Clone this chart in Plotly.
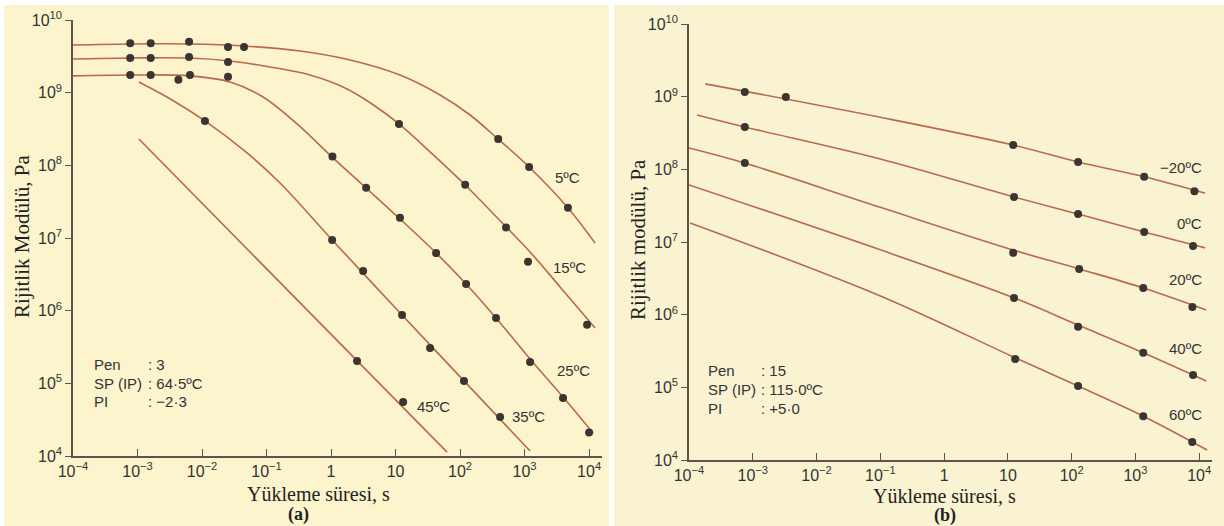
import plotly.graph_objects as go

# ---------------- data: panel (a) ----------------
tick_vals = [1e-4, 1e-3, 1e-2, 1e-1, 1, 10, 1e2, 1e3, 1e4]
tick_text_x = ["10<sup>−4</sup>", "10<sup>−3</sup>", "10<sup>−2</sup>", "10<sup>−1</sup>",
               "1", "10", "10<sup>2</sup>", "10<sup>3</sup>", "10<sup>4</sup>"]
ytick_vals = [1e4, 1e5, 1e6, 1e7, 1e8, 1e9, 1e10]
ytick_text = ["10<sup>4</sup>", "10<sup>5</sup>", "10<sup>6</sup>", "10<sup>7</sup>",
              "10<sup>8</sup>", "10<sup>9</sup>", "10<sup>10</sup>"]

a_labels = ["5ºC", "15ºC", "25ºC", "35ºC", "45ºC"]

a5_line_t = [1e-4, 7.66e-4, 6.28e-3, 0.0448, 0.33, 1.97, 11.7, 49, 143, 388, 1175, 4720, 12400]
a5_line_s = [4.53e9, 4.68e9, 4.68e9, 4.39e9, 3.74e9, 2.82e9, 1.75e9, 9.3e8, 4.93e8, 2.3e8, 9.5e7, 2.59e7, 8.5e6]
a5_dot_t = [7.7e-4, 1.6e-3, 6.3e-3, 0.0253, 0.0448, 390, 1175, 4700]
a5_dot_s = [4.8e9, 4.8e9, 5.0e9, 4.25e9, 4.25e9, 2.3e8, 9.5e7, 2.6e7]

a15_line_t = [1e-4, 7.66e-4, 6.28e-3, 0.0272, 0.113, 0.472, 1.65, 4.32, 11.3, 34.3, 120, 516, 1216, 3550, 12400]
a15_line_s = [2.9e9, 3.0e9, 3.0e9, 2.73e9, 2.26e9, 1.75e9, 1.16e9, 6.98e8, 3.71e8, 1.53e8, 5.36e7, 1.42e7, 6.43e6, 2.12e6, 5.78e5]
a15_dot_t = [7.7e-4, 1.6e-3, 6.3e-3, 0.0253, 11.3, 120, 516, 1130, 9300]
a15_dot_s = [3.0e9, 3.0e9, 3.1e9, 2.65e9, 3.7e8, 5.4e7, 1.4e7, 4.7e6, 6.4e5]

a25_line_t = [1e-4, 7.66e-4, 6.52e-3, 0.0272, 0.0883, 0.297, 1.04, 3.49, 11.7, 42.5, 124, 361, 1216, 3950, 11500]
a25_line_s = [1.7e9, 1.75e9, 1.7e9, 1.4e9, 8.71e8, 3.71e8, 1.3e8, 4.88e7, 1.83e7, 6.22e6, 2.33e6, 7.93e5, 2.16e5, 6.49e4, 2.07e4]
a25_dot_t = [7.7e-4, 1.6e-3, 4.3e-3, 6.5e-3, 0.0253, 1.05, 3.5, 11.7, 42.5, 124, 361, 1216, 3950, 1.0e4]
a25_dot_s = [1.75e9, 1.75e9, 1.5e9, 1.75e9, 1.65e9, 1.32e8, 4.9e7, 1.9e7, 6.2e6, 2.33e6, 7.9e5, 1.97e5, 6.3e4, 2.1e4]

a35_line_t = [1.05e-3, 3.43e-3, 0.0111, 0.0499, 0.162, 1.04, 12.6, 115, 1216]
a35_line_s = [1.4e9, 7.93e8, 4.08e8, 1.48e8, 5.71e7, 9.4e6, 8.73e5, 1.08e5, 1.17e4]
a35_dot_t = [0.0111, 1.04, 3.14, 12.6, 34.3, 115, 417]
a35_dot_s = [4.08e8, 9.4e6, 3.52e6, 8.7e5, 3.06e5, 1.08e5, 3.44e4]

a45_line_t = [1.05e-3, 62.8]
a45_line_s = [2.3e8, 1.13e4]
a45_dot_t = [2.53, 13.1]
a45_dot_s = [2.03e5, 5.53e4]

# ---------------- data: panel (b) ----------------
b_labels = ["−20ºC", "0ºC", "20ºC", "40ºC", "60ºC"]

bm20_line_t = [1.8e-4, 0.1, 12.1, 126, 1370, 12400]
bm20_line_s = [1.5e9, 5.2e8, 2.16e8, 1.26e8, 7.9e7, 4.7e7]
bm20_dot_t = [7.5e-4, 3.3e-3, 12.1, 126, 1370, 8400]
bm20_dot_s = [1.16e9, 9.9e8, 2.16e8, 1.26e8, 7.9e7, 5.0e7]

b0_line_t = [1.33e-4, 7.5e-4, 0.1, 12.5, 126, 1370, 12400]
b0_line_s = [5.6e8, 3.83e8, 1.39e8, 4.16e7, 2.43e7, 1.37e7, 8.3e6]
b0_dot_t = [7.5e-4, 12.5, 126, 1370, 8000]
b0_dot_s = [3.83e8, 4.16e7, 2.43e7, 1.37e7, 8.8e6]

b20_line_t = [1e-4, 7.5e-4, 0.1, 12.1, 131, 1325, 12900]
b20_line_s = [1.97e8, 1.22e8, 3.0e7, 7.76e6, 4.26e6, 2.33e6, 1.16e6]
b20_dot_t = [7.5e-4, 12.1, 131, 1325, 7800]
b20_dot_s = [1.22e8, 7.1e6, 4.26e6, 2.33e6, 1.28e6]

b40_line_t = [1e-4, 0.1, 12.5, 126, 1325, 8000, 12900]
b40_line_s = [6.1e7, 7.8e6, 1.7e6, 7.2e5, 3.0e5, 1.48e5, 1.22e5]
b40_dot_t = [12.5, 126, 1325, 8000]
b40_dot_s = [1.7e6, 6.8e5, 3.0e5, 1.48e5]

b60_line_t = [1.04e-4, 0.1, 13, 126, 1325, 13300]
b60_line_s = [1.83e7, 1.81e6, 2.55e5, 1.04e5, 4.0e4, 1.37e4]
b60_dot_t = [13, 126, 1325, 7760]
b60_dot_s = [2.45e5, 1.04e5, 4.0e4, 1.77e4]

# ---------------- styling ----------------
W, H = 1224, 526
LINE_C = "#b9694c"
DOT_C = "#3b3430"
AX_C = "#5e544b"
TXT_C = "#333333"
SANS = "Liberation Sans, Arial, Helvetica, sans-serif"
SERIF = "Liberation Serif, Times New Roman, serif"

fig = go.Figure()


def add_curve(t, s, xa, ya):
    fig.add_trace(go.Scatter(x=t, y=s, mode="lines", xaxis=xa, yaxis=ya,
                             line=dict(color=LINE_C, width=1.6, shape="spline", smoothing=1.0),
                             hoverinfo="skip", showlegend=False))


def add_dots(t, s, xa, ya):
    fig.add_trace(go.Scatter(x=t, y=s, mode="markers", xaxis=xa, yaxis=ya,
                             marker=dict(color=DOT_C, size=8),
                             showlegend=False))


for lt, ls, dt, ds in [(a5_line_t, a5_line_s, a5_dot_t, a5_dot_s),
                       (a15_line_t, a15_line_s, a15_dot_t, a15_dot_s),
                       (a25_line_t, a25_line_s, a25_dot_t, a25_dot_s),
                       (a35_line_t, a35_line_s, a35_dot_t, a35_dot_s),
                       (a45_line_t, a45_line_s, a45_dot_t, a45_dot_s)]:
    add_curve(lt, ls, "x", "y")
    add_dots(dt, ds, "x", "y")

for lt, ls, dt, ds in [(bm20_line_t, bm20_line_s, bm20_dot_t, bm20_dot_s),
                       (b0_line_t, b0_line_s, b0_dot_t, b0_dot_s),
                       (b20_line_t, b20_line_s, b20_dot_t, b20_dot_s),
                       (b40_line_t, b40_line_s, b40_dot_t, b40_dot_s),
                       (b60_line_t, b60_line_s, b60_dot_t, b60_dot_s)]:
    add_curve(lt, ls, "x2", "y2")
    add_dots(dt, ds, "x2", "y2")


def xaxis_cfg(x0, x1, anchor):
    return dict(type="log", range=[-4, 4.2], domain=[x0 / W, x1 / W], anchor=anchor,
                showline=True, linecolor=AX_C, linewidth=1.5, mirror=False,
                ticks="inside", ticklen=7, tickwidth=1.2, tickcolor=AX_C,
                tickvals=tick_vals, ticktext=tick_text_x, showgrid=False, zeroline=False,
                tickfont=dict(family=SANS, size=16, color=TXT_C), automargin=False)


def yaxis_cfg(top, bottom, anchor):
    return dict(type="log", range=[4, 10], domain=[1 - bottom / H, 1 - top / H], anchor=anchor,
                showline=True, linecolor=AX_C, linewidth=1.5,
                ticks="outside", ticklen=6, tickwidth=1.2, tickcolor=AX_C,
                tickvals=ytick_vals, ticktext=ytick_text, showgrid=False, zeroline=False,
                tickfont=dict(family=SANS, size=16, color=TXT_C), automargin=False)


annotations = []

# curve labels panel (a) (x,y in log10 units)
for txt, lx, ly in zip(a_labels, [3.44, 3.41, 3.47, 2.78, 1.30], [7.83, 6.59, 5.17, 4.55, 4.68]):
    annotations.append(dict(text=txt, x=lx, y=ly, xref="x", yref="y", xanchor="left",
                            yanchor="middle", showarrow=False,
                            font=dict(family=SANS, size=15, color=TXT_C)))
# curve labels panel (b)
for txt, ly in zip(b_labels, [8.03, 7.25, 6.48, 5.53, 4.62]):
    annotations.append(dict(text=txt, x=4.08, y=ly, xref="x2", yref="y2", xanchor="right",
                            yanchor="middle", showarrow=False,
                            font=dict(family=SANS, size=15, color=TXT_C)))

# info blocks
info_a = [("Pen", ": 3"), ("SP (IP)", ": 64·5ºC"), ("PI", ": −2·3")]
info_b = [("Pen", ": 15"), ("SP (IP)", ": 115·0ºC"), ("PI", ": +5·0")]
for (k, v), py in zip(info_a, [364, 383, 401]):
    annotations.append(dict(text=k, x=92 / W, y=1 - py / H, xref="paper", yref="paper",
                            xanchor="left", yanchor="middle", showarrow=False,
                            font=dict(family=SANS, size=15, color=TXT_C)))
    annotations.append(dict(text=v, x=146 / W, y=1 - py / H, xref="paper", yref="paper",
                            xanchor="left", yanchor="middle", showarrow=False,
                            font=dict(family=SANS, size=15, color=TXT_C)))
for (k, v), py in zip(info_b, [370, 389, 408]):
    annotations.append(dict(text=k, x=706 / W, y=1 - py / H, xref="paper", yref="paper",
                            xanchor="left", yanchor="middle", showarrow=False,
                            font=dict(family=SANS, size=15, color=TXT_C)))
    annotations.append(dict(text=v, x=759 / W, y=1 - py / H, xref="paper", yref="paper",
                            xanchor="left", yanchor="middle", showarrow=False,
                            font=dict(family=SANS, size=15, color=TXT_C)))

# axis titles
annotations += [
    dict(text="Rijitlik Modülü, Pa", x=22 / W, y=1 - 237 / H, xref="paper", yref="paper",
         textangle=-90, showarrow=False, xanchor="center", yanchor="middle",
         font=dict(family=SERIF, size=21, color="#222222")),
    dict(text="Rijitlik modülü, Pa", x=638 / W, y=1 - 240 / H, xref="paper", yref="paper",
         textangle=-90, showarrow=False, xanchor="center", yanchor="middle",
         font=dict(family=SERIF, size=21, color="#222222")),
    dict(text="Yükleme süresi, s", x=318 / W, y=1 - 494 / H, xref="paper", yref="paper",
         showarrow=False, xanchor="center", yanchor="middle", borderpad=0,
         font=dict(family=SERIF, size=20, color="#222222")),
    dict(text="Yükleme süresi, s", x=944 / W, y=1 - 496 / H, xref="paper", yref="paper",
         showarrow=False, xanchor="center", yanchor="middle", borderpad=0,
         font=dict(family=SERIF, size=20, color="#222222")),
    dict(text="<b>(a)</b>", x=298 / W, y=1 - 514 / H, xref="paper", yref="paper",
         showarrow=False, xanchor="center", yanchor="middle", borderpad=0,
         font=dict(family=SERIF, size=18, color="#222222")),
    dict(text="<b>(b)</b>", x=945 / W, y=1 - 515 / H, xref="paper", yref="paper",
         showarrow=False, xanchor="center", yanchor="middle", borderpad=0,
         font=dict(family=SERIF, size=18, color="#222222")),
]

shapes = [
    dict(type="rect", xref="paper", yref="paper", x0=4 / W, x1=609 / W, y0=0, y1=1 - 5 / H,
         fillcolor="#fbf4cd", line=dict(width=0), layer="below"),
    dict(type="rect", xref="paper", yref="paper", x0=614 / W, x1=1, y0=0, y1=1 - 5 / H,
         fillcolor="#faf3d2", line=dict(width=0), layer="below"),
]

fig.update_layout(
    width=W, height=H,
    margin=dict(l=0, r=0, t=0, b=0),
    paper_bgcolor="white", plot_bgcolor="rgba(0,0,0,0)",
    xaxis=xaxis_cfg(73, 602, "y"),
    yaxis=yaxis_cfg(20, 456, "x"),
    xaxis2=xaxis_cfg(689, 1212, "y2"),
    yaxis2=yaxis_cfg(24, 460, "x2"),
    annotations=annotations,
    shapes=shapes,
    showlegend=False,
)

fig.write_html(
    "out.html",
    config={"displayModeBar": False},
    post_script=["document.body.style.margin='0px';document.body.style.overflow='hidden';"],
)
